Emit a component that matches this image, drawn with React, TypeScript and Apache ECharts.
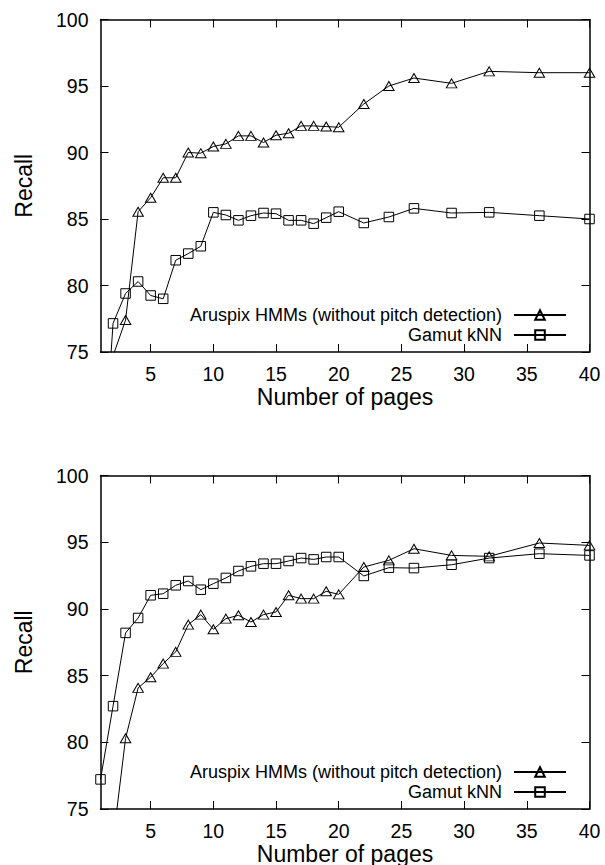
import React, { useEffect, useRef } from "react";
import * as echarts from "echarts";

// ---- data ----
const pages = [1, 2, 3, 4, 5, 6, 7, 8, 9, 10, 11, 12, 13, 14, 15, 16, 17, 18, 19, 20, 22, 24, 26, 29, 32, 36, 40];

const aruspixTop = [null, 74.7, 77.4, 85.55, 86.6, 88.1, 88.1, 90.0, 89.95, 90.45, 90.65, 91.25, 91.25, 90.75, 91.3, 91.45, 92.0, 92.0, 91.95, 91.9, 93.65, 95.0, 95.6, 95.2, 96.1, 96.0, 96.0];
const gamutTop = [63, 77.15, 79.4, 80.3, 79.25, 79.0, 81.9, 82.4, 82.95, 85.5, 85.3, 84.9, 85.25, 85.45, 85.4, 84.9, 84.9, 84.65, 85.1, 85.55, 84.7, 85.15, 85.8, 85.45, 85.5, 85.25, 85.0];

const aruspixBottom = [null, 72.6, 80.3, 84.08, 84.88, 85.9, 86.78, 88.82, 89.57, 88.47, 89.27, 89.52, 89.02, 89.57, 89.77, 91.02, 90.77, 90.77, 91.32, 91.09, 93.14, 93.64, 94.51, 94.01, 93.94, 94.94, 94.76];
const gamutBottom = [77.22, 82.71, 88.2, 89.32, 91.02, 91.14, 91.77, 92.09, 91.44, 91.89, 92.32, 92.84, 93.19, 93.39, 93.39, 93.59, 93.81, 93.71, 93.89, 93.89, 92.47, 93.09, 93.06, 93.31, 93.81, 94.14, 94.01];

const xTicks = [5, 10, 15, 20, 25, 30, 35, 40];
const ARUSPIX = "Aruspix HMMs (without pitch detection)";
const GAMUT = "Gamut kNN";
const X_TITLE = "Number of pages";
const Y_TITLE = "Recall";

const FONT = "'Liberation Sans', Arial, Helvetica, sans-serif";

function pairs(ys: (number | null)[]) {
  const out: number[][] = [];
  pages.forEach((x, i) => {
    const y = ys[i];
    if (y !== null && y !== undefined) out.push([x, y]);
  });
  return out;
}

const axisLine = { onZero: false, lineStyle: { color: "#000", width: 1.5 } };
const tickStyle = { color: "#000", width: 1 };

function xAxes(grid: number) {
  return [
    {
      type: "value",
      gridIndex: grid,
      position: "bottom",
      min: 1,
      max: 40,
      axisLine,
      axisTick: { inside: true, length: 8, customValues: xTicks, lineStyle: tickStyle },
      axisLabel: { customValues: xTicks, color: "#000", fontSize: 19.5, fontFamily: FONT, margin: 12 },
      splitLine: { show: false },
      name: X_TITLE,
      nameLocation: "middle",
      nameGap: 33,
      nameTextStyle: { color: "#000", fontSize: 23, fontFamily: FONT },
    },
    {
      type: "value",
      gridIndex: grid,
      position: "top",
      min: 1,
      max: 40,
      axisLine,
      axisTick: { inside: true, length: 8, customValues: xTicks, lineStyle: tickStyle },
      axisLabel: { show: false, customValues: xTicks },
      splitLine: { show: false },
    },
  ];
}

function yAxes(grid: number) {
  return [
    {
      type: "value",
      gridIndex: grid,
      position: "left",
      min: 75,
      max: 100,
      interval: 5,
      axisLine,
      axisTick: { inside: true, length: 8, lineStyle: tickStyle },
      axisLabel: { color: "#000", fontSize: 19.5, fontFamily: FONT, margin: 12 },
      splitLine: { show: false },
      name: Y_TITLE,
      nameLocation: "middle",
      nameGap: 65,
      nameRotate: 90,
      nameTextStyle: { color: "#000", fontSize: 23, fontFamily: FONT },
    },
    {
      type: "value",
      gridIndex: grid,
      position: "right",
      min: 75,
      max: 100,
      interval: 5,
      axisLine,
      axisTick: { inside: true, length: 8, lineStyle: tickStyle },
      axisLabel: { show: false },
      splitLine: { show: false },
    },
  ];
}

function makeSeries(name: string, data: number[][], symbol: string, size: any, axisBase: number) {
  return {
    type: "line",
    name,
    data,
    xAxisIndex: axisBase,
    yAxisIndex: axisBase,
    symbol,
    symbolSize: size,
    showSymbol: true,
    clip: true,
    lineStyle: { color: "#000", width: 1 },
    itemStyle: { color: "rgba(0,0,0,0)", borderColor: "#000", borderWidth: 1 },
    emphasis: { disabled: true },
    z: 3,
  };
}

function legendAt(top: number) {
  return {
    show: true,
    orient: "vertical",
    right: 38,
    top,
    align: "right",
    itemGap: 2,
    itemWidth: 52,
    itemHeight: 12,
    padding: 0,
    selectedMode: false,
    data: [ARUSPIX, GAMUT],
    textStyle: { color: "#000", fontSize: 18, fontFamily: FONT, padding: [0, 7, 0, 0] },
  };
}

export default function App() {
  const ref = useRef<HTMLDivElement>(null);
  useEffect(() => {
    if (!ref.current) return;
    const chart = echarts.init(ref.current, null, { renderer: "svg" });
    const option: any = {
      animation: false,
      backgroundColor: "#fff",
      textStyle: { fontFamily: FONT },
      grid: [
        { left: 100.5, top: 19.5, width: 489, height: 332.5, outerBoundsMode: "none", containLabel: false },
        { left: 100.5, top: 475.5, width: 489, height: 333.5, outerBoundsMode: "none", containLabel: false },
      ],
      xAxis: [...xAxes(0), ...xAxes(1)],
      yAxis: [...yAxes(0), ...yAxes(1)],
      legend: [legendAt(306), legendAt(763)],
      series: [
        makeSeries(ARUSPIX, pairs(aruspixTop), "triangle", [10.5, 9], 0),
        makeSeries(GAMUT, pairs(gamutTop), "rect", 9.5, 0),
        makeSeries(ARUSPIX, pairs(aruspixBottom), "triangle", [10.5, 9], 2),
        makeSeries(GAMUT, pairs(gamutBottom), "rect", 9.5, 2),
      ],
    };
    chart.setOption(option);
    return () => chart.dispose();
  }, []);
  return (
    <div
      ref={ref}
      style={{ position: "fixed", left: 0, top: 0, width: 605, height: 865, background: "#fff" }}
    />
  );
}
